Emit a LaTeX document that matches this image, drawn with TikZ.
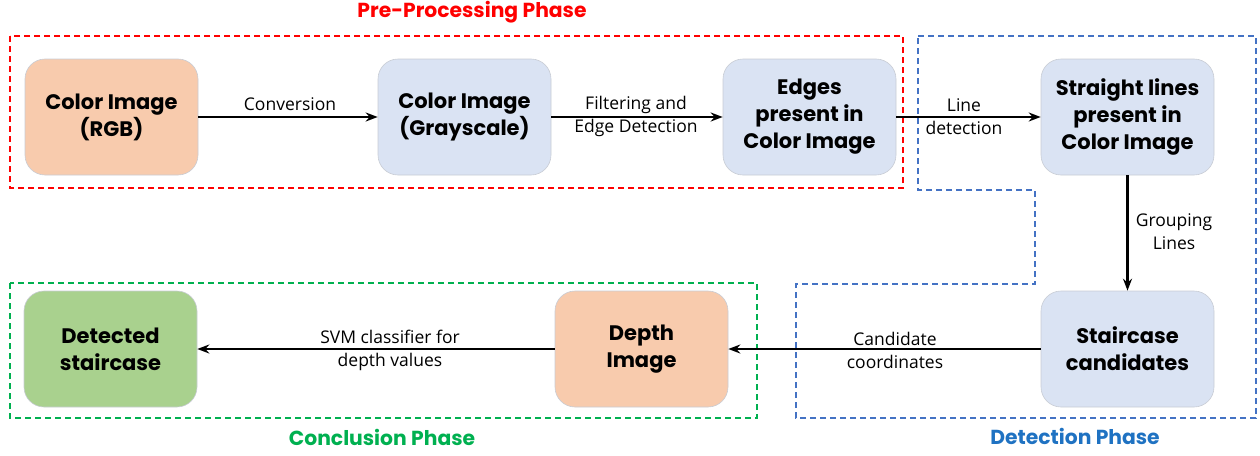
\documentclass[tikz,border=0pt]{standalone}
\usepackage{fontspec}
\setmainfont{Open Sans}
\newfontfamily\headfont{Poppins}[UprightFont=* Bold]
\usetikzlibrary{arrows.meta}
\definecolor{peach}{HTML}{F8CBAD}
\definecolor{paleblue}{HTML}{DAE3F3}
\definecolor{palegreen}{HTML}{A9D18E}
\definecolor{boxedge}{HTML}{C8CCD4}
\definecolor{prered}{HTML}{FF0000}
\definecolor{detblue}{HTML}{4472C4}
\definecolor{dettitle}{HTML}{1F72C2}
\definecolor{congreen}{HTML}{00B050}
\tikzset{
  x=1pt, y=-1pt,
  stage/.style={draw=boxedge, line width=0.6pt, rounded corners=20pt,
    minimum width=173pt, minimum height=116pt, align=center,
    font=\headfont\fontsize{21}{27}\selectfont, text=black},
  flow/.style={-{Stealth[length=12pt,width=9pt]}, line width=2.3pt},
  lbl/.style={font=\fontsize{17.5}{23}\selectfont, align=center, text=black},
  phase/.style={dashed, line width=1.4pt, dash pattern=on 6pt off 4pt},
  title/.style={font=\headfont\fontsize{20.3}{24}\selectfont}
}
\begin{document}
\begin{tikzpicture}
\useasboundingbox (0,0) rectangle (1260,455);

% phase frames
\draw[phase, prered] (10,36) rectangle (903,188);
\draw[phase, congreen] (10,283) rectangle (757,418);
\draw[phase, detblue] (918,36) -- (1256,36) -- (1256,418) -- (796,418)
  -- (796,284) -- (1035,284) -- (1035,190) -- (918,190) -- cycle;

% phase titles
\node[title, text=prered] (tpre) at (472,12) {Pre-Processing Phase};
\node[title, text=congreen] (tcon) at (382,437) {Conclusion Phase};
\node[title, text=dettitle] (tdet) at (1075,436) {Detection Phase};

% processing stages
\node[stage, fill=peach] (rgb) at (111.5,117) {Color Image\\(RGB)};
\node[stage, fill=paleblue] (gray) at (464.5,117) {Color Image\\(Grayscale)};
\node[stage, fill=paleblue] (edges) at (809.5,117) {Edges\\present in\\Color Image};
\node[stage, fill=paleblue] (lines) at (1127.5,117) {Straight lines\\present in\\Color Image};
\node[stage, fill=paleblue] (cand) at (1127.5,349) {Staircase\\candidates};
\node[stage, fill=peach] (depth) at (641.5,349) {Depth\\Image};
\node[stage, fill=palegreen] (found) at (110.5,349) {Detected\\staircase};

% connectors
\draw[flow] (rgb) -- (gray);
\draw[flow] (gray) -- (edges);
\draw[flow] (edges) -- (lines);
\draw[flow] (lines) -- (cand);
\draw[flow] (cand) -- (depth);
\draw[flow] (depth) -- (found);

% connector labels
\node[lbl] (l1) at (290,104) {Conversion};
\node[lbl] (l2) at (636,116) {Filtering and\\Edge Detection};
\node[lbl] (l3) at (964,117) {Line\\detection};
\node[lbl] (l4) at (1174,232) {Grouping\\Lines};
\node[lbl] (l5) at (895,350) {Candidate\\coordinates};
\node[lbl] (l6) at (390,350) {SVM classifier for\\depth values};
\end{tikzpicture}
\end{document}
